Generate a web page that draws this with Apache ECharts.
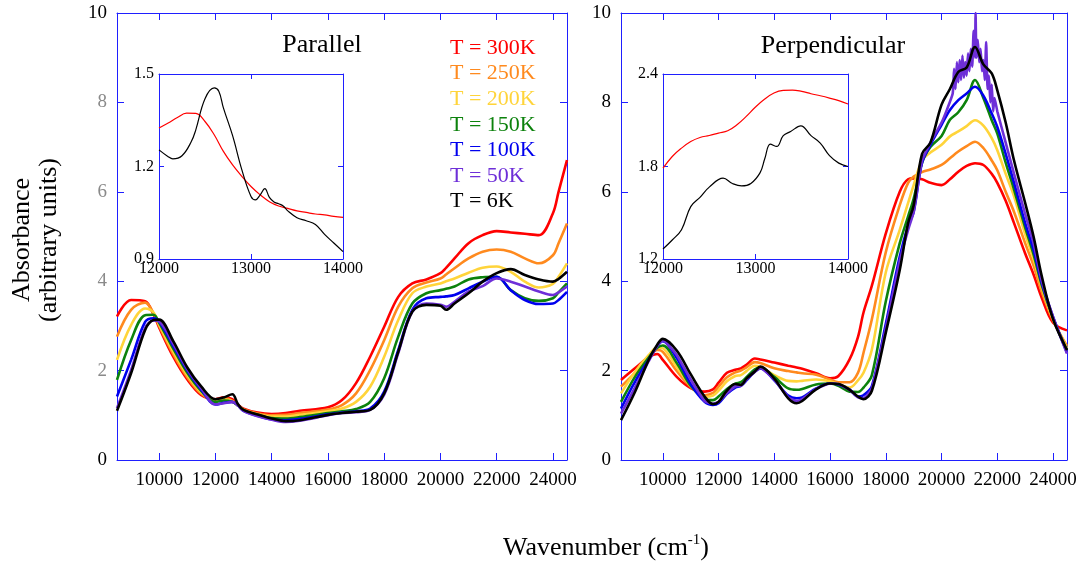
<!DOCTYPE html>
<html><head><meta charset="utf-8">
<script src="https://cdn.jsdelivr.net/npm/echarts@6/dist/echarts.min.js"></script>
<style>html,body{margin:0;padding:0;background:#fff}#c{width:1087px;height:565px}</style>
</head><body><div id="c"></div>
<script>
// ---------- data ----------
const temps = ['T = 300K','T = 250K','T = 200K','T = 150K','T = 100K','T = 50K','T = 6K'];
const colors = ['#ff0000','#ff8a1e','#ffd43a','#0c820c','#0000ee','#6e2fd8','#000000'];

const mainXTicks = [10000,12000,14000,16000,18000,20000,22000,24000];
const mainYTicks = [0,2,4,6,8,10];
const insetXTicks = [12000,13000,14000];
const insetParYTicks = [0.9,1.2,1.5];
const insetPerpYTicks = [1.2,1.8,2.4];

// Parallel panel
const xPar = [8500,9000,9500,9800,10000,10500,11000,11500,12000,12300,12600,12800,13000,13500,14000,14500,15000,16000,16500,17000,17500,18000,18500,19000,19500,20000,20200,20500,21000,21500,22000,22500,23000,23500,24000,24200,24500];
const par300 = [3.21,3.58,3.55,3.25,2.96,2.31,1.80,1.45,1.36,1.40,1.36,1.24,1.15,1.06,1.03,1.05,1.10,1.18,1.34,1.72,2.31,2.98,3.65,3.95,4.04,4.18,4.30,4.51,4.85,5.03,5.12,5.09,5.06,5.03,5.52,6.00,6.71];
const par250 = [2.76,3.36,3.52,3.28,3.00,2.37,1.85,1.48,1.34,1.38,1.33,1.22,1.13,1.04,1.00,1.01,1.05,1.13,1.23,1.49,2.01,2.68,3.43,3.84,3.97,4.06,4.15,4.29,4.51,4.66,4.71,4.66,4.51,4.40,4.58,4.85,5.29];
const par200 = [2.24,3.02,3.39,3.30,3.03,2.43,1.90,1.51,1.32,1.35,1.31,1.22,1.12,1.02,0.97,0.97,1.01,1.09,1.15,1.30,1.64,2.31,3.13,3.73,3.88,3.95,4.00,4.06,4.19,4.30,4.33,4.21,3.99,3.86,3.94,4.10,4.40];
const par150 = [1.79,2.68,3.24,3.25,3.07,2.49,1.95,1.54,1.30,1.33,1.30,1.22,1.11,1.01,0.94,0.93,0.96,1.05,1.09,1.14,1.30,1.83,2.76,3.50,3.73,3.80,3.83,3.88,4.04,4.09,4.10,3.80,3.62,3.56,3.62,3.75,3.95];
const par100 = [1.42,2.24,3.09,3.17,3.10,2.55,2.00,1.57,1.24,1.28,1.30,1.22,1.10,0.99,0.91,0.89,0.92,1.02,1.06,1.09,1.15,1.53,2.46,3.36,3.62,3.65,3.66,3.69,3.84,3.99,4.10,3.80,3.58,3.49,3.50,3.58,3.76];
const par50  = [1.16,2.01,2.95,3.12,3.10,2.60,2.03,1.60,1.24,1.27,1.30,1.22,1.10,0.98,0.90,0.85,0.88,1.00,1.05,1.07,1.12,1.46,2.39,3.32,3.50,3.47,3.43,3.54,3.77,3.89,4.06,3.99,3.88,3.77,3.69,3.75,3.88];
const par6   = [1.10,1.94,2.91,3.13,3.14,2.66,2.07,1.64,1.36,1.40,1.47,1.25,1.12,1.02,0.93,0.87,0.89,1.01,1.05,1.08,1.12,1.49,2.42,3.32,3.47,3.45,3.36,3.50,3.73,3.99,4.18,4.27,4.14,4.04,3.99,4.05,4.21];

// Perpendicular panel
const xPerp = [8500,9000,9500,9800,10000,10500,11000,11500,11800,12000,12300,12600,12800,13000,13300,13500,14000,14500,14800,15000,15500,16000,16300,16700,17000,17200,17500,18000,18500,18800,19000,19300,19600,20000,20300,20600,20900,21200,21500,21800,22000,22300,22600,23000,23300,23600,24000,24500];
const perp300 = [1.79,2.05,2.30,2.37,2.24,1.86,1.61,1.53,1.58,1.73,1.95,2.02,2.05,2.13,2.27,2.25,2.18,2.11,2.07,2.04,1.94,1.83,1.88,2.25,2.75,3.30,3.90,5.07,6.00,6.28,6.30,6.28,6.20,6.15,6.28,6.45,6.58,6.64,6.60,6.40,6.20,5.80,5.30,4.62,4.15,3.62,3.07,2.90];
const perp250 = [1.64,1.95,2.28,2.46,2.42,1.99,1.64,1.45,1.50,1.64,1.85,1.96,2.00,2.07,2.19,2.17,2.05,1.99,1.96,1.94,1.91,1.80,1.74,1.74,1.95,2.40,3.15,4.65,5.70,6.20,6.34,6.44,6.50,6.60,6.75,6.90,7.02,7.12,6.98,6.70,6.48,6.00,5.55,4.85,4.35,3.75,3.12,2.55];
const perp200 = [1.49,1.97,2.35,2.52,2.50,2.08,1.66,1.41,1.44,1.55,1.76,1.88,1.90,1.99,2.11,2.08,1.90,1.77,1.76,1.77,1.80,1.76,1.70,1.62,1.78,1.95,2.47,4.20,5.15,5.75,6.15,6.70,6.88,7.05,7.24,7.35,7.47,7.60,7.48,7.20,6.93,6.40,5.90,5.05,4.50,3.85,3.15,2.50];
const perp150 = [1.30,1.86,2.30,2.51,2.56,2.17,1.66,1.37,1.34,1.42,1.59,1.71,1.74,1.85,2.03,2.07,1.86,1.60,1.57,1.59,1.69,1.71,1.66,1.53,1.52,1.62,1.90,3.55,4.85,5.45,5.85,6.65,7.00,7.25,7.61,7.78,8.05,8.50,8.10,7.60,7.30,6.65,6.05,5.20,4.60,3.90,3.18,2.45];
const perp100 = [1.15,1.75,2.25,2.55,2.66,2.28,1.70,1.30,1.23,1.27,1.48,1.62,1.66,1.78,1.98,2.05,1.78,1.44,1.38,1.40,1.60,1.71,1.69,1.58,1.42,1.45,1.65,3.05,4.55,5.25,5.55,6.65,7.05,7.50,7.83,8.05,8.20,8.35,8.15,7.75,7.45,6.85,6.20,5.30,4.70,3.95,3.20,2.40];
const xPerp50 = [8500,9000,9500,9800,10000,10500,11000,11500,11800,12000,12300,12600,12800,13000,13300,13500,14000,14500,14800,15000,15500,16000,16300,16700,17000,17200,17500,18000,18500,18800,19000,19300,19600,20000,20200,20400,20450,20500,20550,20600,20650,20700,20750,20800,20850,20900,20950,21000,21050,21100,21150,21200,21220,21250,21300,21350,21400,21450,21500,21550,21600,21650,21700,21750,21800,21850,21900,22000,22300,22600,23000,23300,23600,24000,24500];
const perp50 = [1.04,1.62,2.22,2.55,2.68,2.35,1.80,1.32,1.26,1.30,1.50,1.65,1.66,1.80,1.97,2.06,1.80,1.40,1.32,1.36,1.59,1.71,1.70,1.57,1.40,1.38,1.60,2.95,4.45,5.15,5.55,6.70,7.10,7.55,7.85,8.20,8.75,8.30,8.90,8.45,8.95,8.50,9.05,8.55,8.90,8.60,9.10,8.70,9.20,8.80,9.60,9.00,10.0,9.00,9.40,8.90,9.20,8.70,8.95,8.50,9.35,8.30,8.60,8.00,8.40,7.80,8.10,7.80,7.10,6.40,5.50,4.85,4.00,3.20,2.38];
const perp6 = [0.89,1.52,2.25,2.58,2.71,2.45,1.92,1.42,1.25,1.30,1.55,1.70,1.68,1.82,1.98,2.09,1.82,1.38,1.27,1.32,1.58,1.71,1.70,1.57,1.42,1.36,1.55,2.85,4.25,5.30,5.70,6.85,7.10,7.95,8.30,8.68,8.78,9.24,8.85,8.65,8.27,7.55,6.70,5.75,5.00,4.10,3.15,2.46];

// Insets
const xInset300 = [12000,12100,12200,12300,12400,12500,12600,12700,12800,12900,13000,13100,13200,13300,13400,13500,13600,13700,13800,13900,14000];
const insetPar300 = [1.325,1.341,1.359,1.373,1.372,1.346,1.303,1.249,1.205,1.168,1.135,1.108,1.086,1.072,1.064,1.056,1.051,1.046,1.043,1.038,1.035];
const xInsetPar6 = [12000,12100,12150,12250,12350,12400,12500,12600,12650,12700,12800,12900,13000,13050,13100,13150,13200,13250,13300,13350,13400,13500,13600,13700,13800,13900,14000];
const insetPar6 = [1.254,1.232,1.225,1.235,1.28,1.319,1.42,1.455,1.444,1.39,1.30,1.19,1.103,1.092,1.108,1.128,1.100,1.085,1.079,1.072,1.056,1.034,1.024,1.012,0.980,0.952,0.924];
const insetPerp300 = [1.789,1.865,1.919,1.962,1.988,2.001,2.017,2.032,2.071,2.125,2.186,2.238,2.277,2.294,2.296,2.287,2.272,2.259,2.244,2.227,2.205];
const xInsetPerp6 = [12000,12100,12200,12300,12400,12500,12650,12750,12850,12950,13050,13100,13160,13230,13300,13380,13490,13600,13700,13800,13900,14000];
const insetPerp6 = [1.265,1.323,1.39,1.54,1.60,1.666,1.724,1.69,1.674,1.69,1.76,1.85,1.945,1.93,2.0,2.027,2.064,2.0,1.952,1.87,1.822,1.80];

// ---------- chart ----------
const FONT = '"Liberation Serif","Times New Roman",serif';
const BLUE = '#1f1fff';
const zip = (xs, ys) => xs.map((x, i) => [x, ys[i]]);

function xAxes(gi, min, max, ticks, fs, tl, margin) {
  const base = {type:'value', gridIndex:gi, min, max, splitLine:{show:false},
    axisLine:{show:true, onZero:false, lineStyle:{color:BLUE, width:1}},
    axisTick:{show:true, inside:true, length:tl, customValues:ticks, lineStyle:{color:BLUE, width:1}}};
  return [
    Object.assign({}, base, {position:'bottom', axisLabel:{show:true, customValues:ticks, margin, fontSize:fs, fontFamily:FONT, color:'#000', formatter:v=>String(v)}}),
    Object.assign({}, base, {position:'top', axisLabel:{show:false}})
  ];
}
function yAxes(gi, min, max, ticks, fs, tl, margin, fmt, colorFn) {
  const base = {type:'value', gridIndex:gi, min, max, splitLine:{show:false},
    axisLine:{show:true, onZero:false, lineStyle:{color:BLUE, width:1}},
    axisTick:{show:true, inside:true, length:tl, customValues:ticks, lineStyle:{color:BLUE, width:1}}};
  return [
    Object.assign({}, base, {position:'left', axisLabel:{show:true, customValues:ticks, margin, fontSize:fs, fontFamily:FONT, color:colorFn || '#000', formatter:fmt}}),
    Object.assign({}, base, {position:'right', axisLabel:{show:false}})
  ];
}

const xAxis = [].concat(
  xAxes(0, 8500, 24500, mainXTicks, 19, 7, 11),
  xAxes(1, 8500, 24500, mainXTicks, 19, 7, 11),
  xAxes(2, 12000, 14000, insetXTicks, 16, 5, 2),
  xAxes(3, 12000, 14000, insetXTicks, 16, 5, 2)
);
const yAxis = [].concat(
  yAxes(0, 0, 10, mainYTicks, 19, 7, 10, v=>String(v), v => (Number(v)===0||Number(v)===10)?'#000':'#8a8a8a'),
  yAxes(1, 0, 10, mainYTicks, 19, 7, 10, v=>String(v)),
  yAxes(2, 0.9, 1.5, insetParYTicks, 16, 5, 5, v=>Number(v).toFixed(1)),
  yAxes(3, 1.2, 2.4, insetPerpYTicks, 16, 5, 5, v=>Number(v).toFixed(1))
);

const series = [];
const parY = [par300, par250, par200, par150, par100, par50, par6];
const perpData = [zip(xPerp,perp300), zip(xPerp,perp250), zip(xPerp,perp200), zip(xPerp,perp150), zip(xPerp,perp100), zip(xPerp50,perp50), zip(xPerp,perp6)];
parY.forEach((ys, i) => series.push({type:'line', name:temps[i], xAxisIndex:0, yAxisIndex:0, data:zip(xPar, ys), smooth:0.35, showSymbol:false, animation:false, lineStyle:{color:colors[i], width:2.6}, itemStyle:{color:colors[i]}}));
perpData.forEach((d, i) => series.push({type:'line', name:temps[i], xAxisIndex:2, yAxisIndex:2, data:d, smooth:(i===5?0.15:0.35), showSymbol:false, animation:false, lineStyle:{color:colors[i], width:2.6}, itemStyle:{color:colors[i]}}));
series.push({type:'line', xAxisIndex:4, yAxisIndex:4, data:zip(xInset300, insetPar300), smooth:0.4, showSymbol:false, animation:false, lineStyle:{color:'#ff0000', width:1.2}});
series.push({type:'line', xAxisIndex:4, yAxisIndex:4, data:zip(xInsetPar6, insetPar6), smooth:0.4, showSymbol:false, animation:false, lineStyle:{color:'#000', width:1.2}});
series.push({type:'line', xAxisIndex:6, yAxisIndex:6, data:zip(xInset300, insetPerp300), smooth:0.4, showSymbol:false, animation:false, lineStyle:{color:'#ff0000', width:1.2}});
series.push({type:'line', xAxisIndex:6, yAxisIndex:6, data:zip(xInsetPerp6, insetPerp6), smooth:0.4, showSymbol:false, animation:false, lineStyle:{color:'#000', width:1.2}});

const graphic = [
  {type:'text', x:322, y:45, z:100, style:{text:'Parallel', fill:'#000', font:'26px '+FONT, align:'center', verticalAlign:'middle'}},
  {type:'text', x:833, y:46, z:100, style:{text:'Perpendicular', fill:'#000', font:'26px '+FONT, align:'center', verticalAlign:'middle'}},
  {type:'text', x:36, y:240, rotation:Math.PI/2, z:100, style:{text:'Absorbance\n(arbitrary units)', fill:'#000', font:'26px '+FONT, align:'center', verticalAlign:'middle', lineHeight:27}},
  {type:'text', x:606, y:548, z:100, style:{text:'{a|Wavenumber (cm}{s|-1}{a|)}', fill:'#000', align:'center', verticalAlign:'middle',
     rich:{a:{fontSize:26, fontFamily:FONT, fill:'#000', lineHeight:30}, s:{fontSize:15, fontFamily:FONT, fill:'#000', verticalAlign:'top', lineHeight:30, padding:[0,0,12,0]}}}}
];
temps.forEach((t, i) => graphic.push({type:'text', x:450, y:48 + i*25.6, z:100, style:{text:t, fill:colors[i], font:'22px '+FONT, align:'left', verticalAlign:'middle'}}));

const chart = echarts.init(document.getElementById('c'), null, {renderer:'canvas'});
chart.setOption({
  backgroundColor:'#fff',
  animation:false,
  grid:[
    {left:117, top:13, width:450, height:447, outerBoundsMode:'none'},
    {left:621, top:13, width:446, height:447, outerBoundsMode:'none'},
    {left:159, top:74, width:184, height:185, show:true, backgroundColor:'#fff', borderWidth:0, outerBoundsMode:'none'},
    {left:663, top:74, width:185, height:185, show:true, backgroundColor:'#fff', borderWidth:0, outerBoundsMode:'none'}
  ],
  xAxis, yAxis, series, graphic
});
</script></body></html>
